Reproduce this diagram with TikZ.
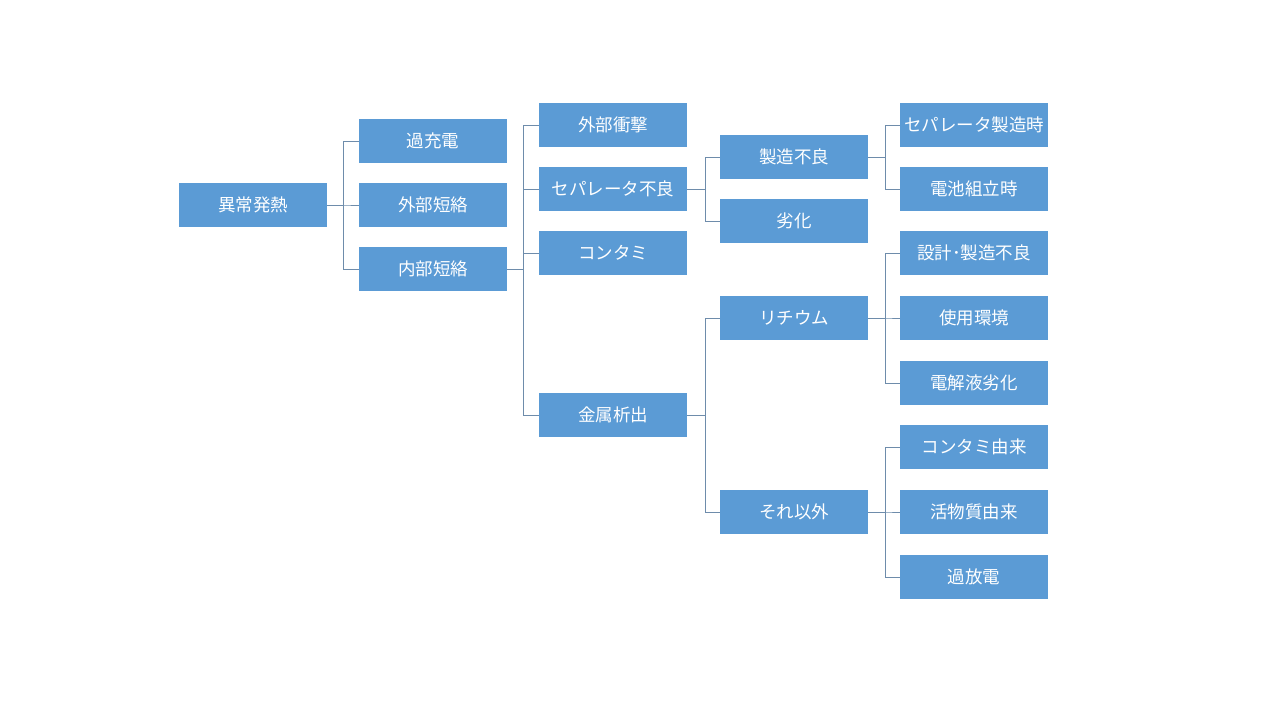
\documentclass[tikz,border=0pt]{standalone}
\usepackage{fontspec}
\newfontfamily\jp{Noto Sans CJK JP}
\definecolor{boxblue}{HTML}{5B9BD5}
\definecolor{linecol}{HTML}{6E8CAB}
\begin{document}
\begin{tikzpicture}[x=1pt,y=-1pt,
  box/.style={fill=boxblue,draw=none,minimum width=148pt,minimum height=44pt,inner sep=0pt,text=white,font=\jp\fontsize{17.5}{17.5}\selectfont},
  conn/.style={draw=linecol,line width=1pt}]
\useasboundingbox[fill=white] (0,0) rectangle (1280,720);
% column 1
\node[box] (a) at (253,205) {異常発熱};
% column 2
\node[box] (b1) at (433,141) {過充電};
\node[box] (b2) at (433,205) {外部短絡};
\node[box] (b3) at (433,269) {内部短絡};
% column 3
\node[box] (c1) at (613,125) {外部衝撃};
\node[box] (c2) at (613,189) {セパレータ不良};
\node[box] (c3) at (613,253) {コンタミ};
\node[box] (c4) at (613,415) {金属析出};
% column 4
\node[box] (d1) at (794,157) {製造不良};
\node[box] (d2) at (794,221) {劣化};
\node[box] (d3) at (794,318) {リチウム};
\node[box] (d4) at (794,512) {それ以外};
% column 5
\node[box] (e1) at (974,125) {セパレータ製造時};
\node[box] (e2) at (974,189) {電池組立時};
\node[box] (e3) at (974,253) {設計･製造不良};
\node[box] (e4) at (974,318) {使用環境};
\node[box] (e5) at (974,383) {電解液劣化};
\node[box] (e6) at (974,447) {コンタミ由来};
\node[box] (e7) at (974,512) {活物質由来};
\node[box] (e8) at (974,577) {過放電};
% connectors
\foreach \p/\x/\c in {a/343/b1,a/343/b2,a/343/b3,
                      b3/523/c1,b3/523/c2,b3/523/c3,b3/523/c4,
                      c2/705/d1,c2/705/d2,
                      c4/705/d3,c4/705/d4,
                      d1/885/e1,d1/885/e2,
                      d3/885/e3,d3/885/e4,d3/885/e5,
                      d4/885/e6,d4/885/e7,d4/885/e8}
  \draw[conn] (\p.east) -- (\x,0 |- \p.east) |- (\c.west);
\end{tikzpicture}
\end{document}
